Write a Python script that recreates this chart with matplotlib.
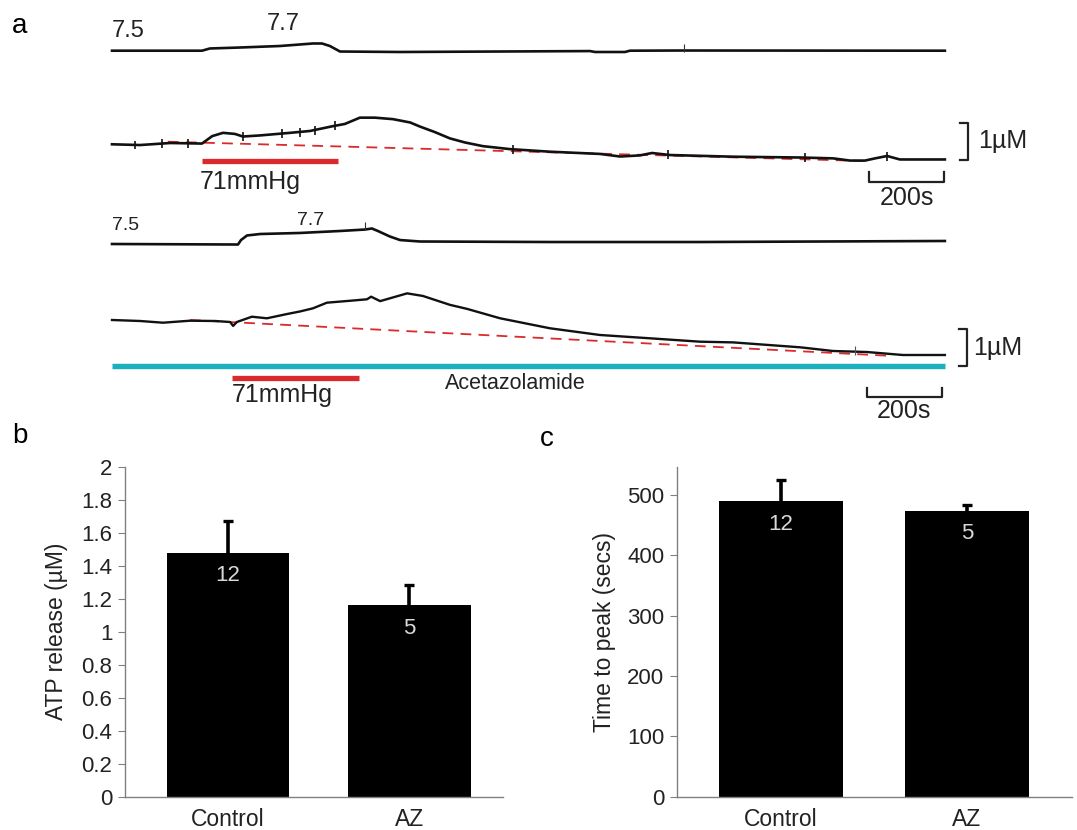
import matplotlib
matplotlib.use('Agg')
import matplotlib.pyplot as plt
import numpy as np

plt.rcParams['font.family'] = ['Liberation Sans', 'DejaVu Sans']

# ---------------- panel a : recordings (time in s) ----------------
# control: pH trace
ph1_t = [0, 240, 261, 341, 448, 536, 560, 581, 608, 768, 1275, 1288, 1368, 1381, 1522, 2221]
ph1_v = [7.50, 7.50, 7.56, 7.586, 7.627, 7.695, 7.695, 7.627, 7.478, 7.465, 7.49, 7.465, 7.465, 7.50, 7.505, 7.50]

# control: ATP trace (uM)
atp1_t = [0, 75, 155, 240, 267, 296, 328, 349, 395, 475, 528, 589, 621, 661, 701, 749, 795, 821,
          861, 901, 941, 989, 1061, 1168, 1301, 1355, 1408, 1440, 1488, 1656, 1835, 1923, 1968,
          2008, 2035, 2067, 2101, 2221]
atp1_v = [0.00, -0.02, 0.035, 0.02, 0.22, 0.31, 0.28, 0.21, 0.24, 0.31, 0.36, 0.49, 0.55, 0.72,
          0.72, 0.68, 0.59, 0.48, 0.33, 0.16, 0.05, -0.05, -0.13, -0.20, -0.26, -0.33, -0.30,
          -0.235, -0.29, -0.335, -0.357, -0.38, -0.44, -0.44, -0.38, -0.316, -0.41, -0.41]
atp1_spike_t = [61, 133, 203, 349, 453, 501, 541, 595, 1069, 1483, 1848, 2067]
atp1_spike_v = [-0.02, 0.03, 0.03, 0.21, 0.29, 0.33, 0.37, 0.50, -0.14, -0.28, -0.36, -0.32]
base1_t = [149, 2003]
base1_v = [0.07, -0.45]
stim1 = [240, 603]

# acetazolamide: pH trace
ph2_t = [0, 336, 344, 360, 395, 501, 608, 675, 693, 709, 741, 768, 821, 1168, 1568, 2221]
ph2_v = [7.50, 7.493, 7.554, 7.616, 7.636, 7.65, 7.677, 7.697, 7.711, 7.677, 7.602, 7.554,
         7.534, 7.527, 7.527, 7.541]

# acetazolamide: ATP trace (uM)
atp2_t = [0, 75, 136, 208, 275, 315, 323, 333, 373, 413, 467, 501, 536, 573, 635, 680, 691, 715,
          741, 787, 829, 901, 947, 1035, 1168, 1301, 1435, 1568, 1656, 1835, 1923, 2013, 2109, 2221]
atp2_v = [0.0, -0.027, -0.073, -0.019, -0.027, -0.054, -0.16, -0.054, 0.089, 0.046, 0.162, 0.23,
          0.316, 0.468, 0.52, 0.56, 0.63, 0.51, 0.586, 0.72, 0.65, 0.41, 0.30, 0.046, -0.224,
          -0.405, -0.495, -0.586, -0.605, -0.738, -0.838, -0.865, -0.946, -0.946]
base2_t = [208, 2083]
base2_v = [0.0, -0.973]
stim2 = [320, 659]
drug = [0, 2221]

scale_s = 200
scale_um = 1

# ---------------- panels b, c : summary ----------------
groups = ['Control', 'AZ']
n_cells = [12, 5]
atp_mean = [1.48, 1.16]
atp_sem = [0.19, 0.125]
peak_mean = [490, 474]
peak_sem = [35, 9]
atp_ticks = [0, 0.2, 0.4, 0.6, 0.8, 1, 1.2, 1.4, 1.6, 1.8, 2]
peak_ticks = [0, 100, 200, 300, 400, 500]

W, H = 1077, 830
fig = plt.figure(figsize=(W / 100, H / 100), dpi=100)

TOP_H = 420
PX_PER_S = 0.375
X0 = 112
RED = '#dc2a2a'
TXT = '#222222'


def overlay(base_px, px_per_unit, base_val):
    ax = fig.add_axes([0, 1 - TOP_H / H, 1, TOP_H / H])
    ax.set_xlim(-X0 / PX_PER_S, (W - X0) / PX_PER_S)
    ax.set_ylim(base_val - (TOP_H - base_px) / px_per_unit, base_val + base_px / px_per_unit)
    ax.axis('off')
    ax.patch.set_alpha(0)
    return ax


ax_ph1 = overlay(50.7, 37, 7.5)
ax_ph1.plot(ph1_t, ph1_v, color='#111111', lw=1.9)
ax_ph1.vlines([1524], 7.47, 7.68, color='#333333', lw=0.8)
ax_ph1.text(0, 8.03, '7.5', fontsize=17, color=TXT, ha='left', va='center')
ax_ph1.text(413, 8.22, '7.7', fontsize=17, color=TXT, ha='left', va='center')

ax_a1 = overlay(144.3, 37, 0)
ax_a1.plot(base1_t, base1_v, color=RED, lw=1.3, dashes=(6, 4))
ax_a1.plot(atp1_t, atp1_v, color='#111111', lw=1.9)
sv = np.array(atp1_spike_v)
ax_a1.vlines(atp1_spike_t, sv - 0.12, sv + 0.12, color='#111111', lw=1.2)
ax_a1.plot(stim1, [-0.443, -0.443], color=RED, lw=3.8, solid_capstyle='butt')
ax_a1.text(stim1[0] - 5, -1.01, '71mmHg', fontsize=18, color=TXT, ha='left', va='center')
# scale bars
sx0 = 2019
ax_a1.plot([sx0, sx0, sx0 + scale_s, sx0 + scale_s], [-0.75, -1.01, -1.01, -0.75], color='#222222', lw=1.6)
ax_a1.text(sx0 + scale_s / 2, -1.45, '%ds' % scale_s, fontsize=18, color=TXT, ha='center', va='center')
bx = 2283
ax_a1.plot([bx - 22, bx, bx, bx - 22], [0.576, 0.576, 0.576 - scale_um, 0.576 - scale_um], color='#222222', lw=1.6)
ax_a1.text(2309, 0.09, '1µM', fontsize=18, color=TXT, ha='left', va='center')

ax_ph2 = overlay(244, 73.5, 7.5)
ax_ph2.plot(ph2_t, ph2_v, color='#111111', lw=1.9)
ax_ph2.vlines([675], 7.69, 7.80, color='#333333', lw=0.8)
ax_ph2.text(0, 7.752, '7.5', fontsize=14, color=TXT, ha='left', va='center')
ax_ph2.text(493, 7.82, '7.7', fontsize=14, color=TXT, ha='left', va='center')

ax_a2 = overlay(320, 37, 0)
ax_a2.plot(base2_t, base2_v, color=RED, lw=1.3, dashes=(6, 4))
ax_a2.plot(atp2_t, atp2_v, color='#111111', lw=1.7)
ax_a2.vlines([2221 - 240], -0.95, -0.70, color='#555555', lw=0.8)
ax_a2.plot(drug, [-1.243, -1.243], color='#1cb0bf', lw=3.9, solid_capstyle='butt')
ax_a2.plot(stim2, [-1.578, -1.578], color=RED, lw=3.8, solid_capstyle='butt')
ax_a2.text(stim2[0], -2.02, '71mmHg', fontsize=18, color=TXT, ha='left', va='center')
ax_a2.text(888, -1.705, 'Acetazolamide', fontsize=15.5, color=TXT, ha='left', va='center')
sx0 = 2013
ax_a2.plot([sx0, sx0, sx0 + scale_s, sx0 + scale_s], [-1.84, -2.08, -2.08, -1.84], color='#222222', lw=1.6)
ax_a2.text(sx0 + scale_s / 2, -2.46, '%ds' % scale_s, fontsize=18, color=TXT, ha='center', va='center')
bx = 2280
ax_a2.plot([bx - 22, bx, bx, bx - 22], [-0.243, -0.243, -0.243 - scale_um, -0.243 - scale_um], color='#222222', lw=1.6)
ax_a2.text(2296, -0.757, '1µM', fontsize=18, color=TXT, ha='left', va='center')


def bar_panel(left, right, vals, errs, ylim, ticks, ylabel, xlim, width, lpad):
    bottom, top = 796.7, 466.7
    ax = fig.add_axes([left / W, 1 - bottom / H, (right - left) / W, (bottom - top) / H])
    x = np.arange(len(groups))
    ax.bar(x, vals, width, color='black', zorder=2)
    hi = np.array(vals) + np.array(errs)
    cap = 5.0 * (xlim[1] - xlim[0]) / (right - left)
    ax.vlines(x, vals, hi, color='black', lw=2.6, zorder=3)
    ax.hlines(hi, x - cap, x + cap, color='black', lw=2.4, zorder=3)
    for xi, v, n in zip(x, vals, n_cells):
        ax.annotate(str(n), (xi, v), xytext=(0, -16.5), textcoords='offset points',
                    ha='center', va='center', fontsize=16, color='#d9d9d9', zorder=4)
    ax.set_xlim(*xlim)
    ax.set_ylim(*ylim)
    ax.set_yticks(ticks)
    ax.set_yticklabels([('%g' % t) for t in ticks])
    ax.set_xticks(x)
    ax.set_xticklabels(groups)
    for s in ['top', 'right']:
        ax.spines[s].set_visible(False)
    for s in ['left', 'bottom']:
        ax.spines[s].set_color('#808080')
        ax.spines[s].set_linewidth(1.0)
    ax.tick_params(axis='y', length=5, color='#808080', labelsize=16, labelcolor=TXT, pad=4)
    ax.tick_params(axis='x', length=0, labelsize=16.5, labelcolor=TXT, pad=8)
    ax.set_ylabel(ylabel, fontsize=16.5, color=TXT, labelpad=lpad)
    return ax


bar_panel(125, 503, atp_mean, atp_sem, (0, 2), atp_ticks, 'ATP release (µM)',
          (-0.567, 1.515), 0.674, 10)
bar_panel(677, 1072, peak_mean, peak_sem, (0, 547), peak_ticks, 'Time to peak (secs)',
          (-0.559, 1.565), 0.667, 8)

fig.text(12 / W, 1 - 26 / H, 'a', fontsize=20, color='black', ha='left', va='center')
fig.text(12 / W, 1 - 436 / H, 'b', fontsize=20, color='black', ha='left', va='center')
fig.text(540 / W, 1 - 439 / H, 'c', fontsize=20, color='black', ha='left', va='center')

fig.savefig('out.png', dpi=100)
